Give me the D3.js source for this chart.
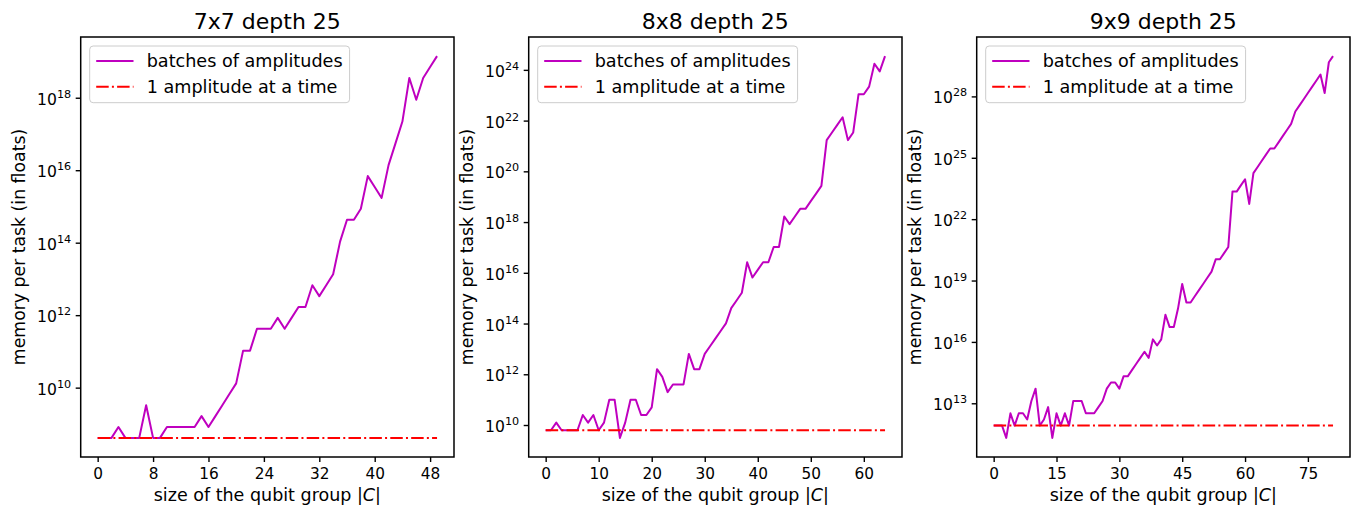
<!DOCTYPE html>
<html><head><meta charset="utf-8">
<script src="https://cdn.jsdelivr.net/npm/d3@7"></script>
<style>
body{margin:0;background:#fff}
svg{display:block}
text{font-family:"DejaVu Sans",sans-serif;fill:#000}
</style>
</head><body>
<svg id="chart" width="1355" height="507"></svg>
<script>
// ---------------- data ----------------
const titles = ["7x7 depth 25", "8x8 depth 25", "9x9 depth 25"];
const seriesNames = ["batches of amplitudes", "1 amplitude at a time"];

// qubit-group sizes |C|
const sizes7 = d3.range(0, 50);
const sizes8 = d3.range(0, 65);
const sizes9 = d3.range(0, 82);

// memory per task, batches of amplitudes (floats)
const batches7 = [
  4.1e8, 4.1e8, 4.1e8, 8.2e8, 4.1e8, 4.1e8, 4.1e8, 3.28e9, 4.1e8, 4.1e8,
  8.2e8, 8.2e8, 8.2e8, 8.2e8, 8.2e8, 1.64e9, 8.2e8, 1.64e9, 3.28e9, 6.56e9,
  1.31e10, 1.05e11, 1.05e11, 4.2e11, 4.2e11, 4.2e11, 8.4e11, 4.2e11, 8.4e11, 1.68e12,
  1.68e12, 6.72e12, 3.36e12, 6.72e12, 1.34e13, 1.07e14, 4.3e14, 4.3e14, 8.6e14, 6.88e15,
  3.44e15, 1.72e15, 1.38e16, 5.5e16, 2.2e17, 3.52e18, 8.8e17, 3.52e18, 7.04e18, 1.41e19
];
const batches8 = [
  6.2e9, 6.2e9, 1.24e10, 6.2e9, 6.2e9, 6.2e9, 6.2e9, 2.48e10, 1.24e10, 2.48e10,
  6.2e9, 1.24e10, 9.92e10, 9.92e10, 3.1e9, 1.24e10, 9.92e10, 9.92e10, 2.48e10, 2.48e10,
  4.96e10, 1.59e12, 7.94e11, 1.98e11, 3.97e11, 3.97e11, 3.97e11, 6.35e12, 1.59e12, 1.59e12,
  6.35e12, 1.27e13, 2.54e13, 5.08e13, 1.02e14, 4.06e14, 8.13e14, 1.63e15, 2.6e16, 6.5e15,
  1.3e16, 2.6e16, 2.6e16, 1.04e17, 1.04e17, 1.66e18, 8.32e17, 1.66e18, 3.33e18, 3.33e18,
  6.66e18, 1.33e19, 2.66e19, 1.7e21, 3.41e21, 6.82e21, 1.36e22, 1.7e21, 3.41e21, 1.09e23,
  1.09e23, 2.18e23, 1.75e24, 8.73e23, 3.49e24
];
const batches9 = [
  8.1e11, 8.1e11, 8.1e11, 2.03e11, 3.24e12, 8.1e11, 3.24e12, 3.24e12, 1.62e12, 1.3e13,
  5.18e13, 8.1e11, 1.62e12, 6.48e12, 2.03e11, 3.24e12, 8.1e11, 3.24e12, 8.1e11, 1.3e13,
  1.3e13, 1.3e13, 3.24e12, 3.24e12, 3.24e12, 6.48e12, 1.3e13, 5.18e13, 1.04e14, 1.04e14,
  5.18e13, 2.07e14, 2.07e14, 4.15e14, 8.29e14, 1.66e15, 3.32e15, 1.66e15, 1.33e16, 6.64e15,
  1.33e16, 2.12e17, 5.31e16, 5.31e16, 4.25e17, 6.79e18, 8.49e17, 8.49e17, 1.7e18, 3.4e18,
  6.79e18, 1.36e19, 2.72e19, 1.09e20, 1.09e20, 2.17e20, 4.35e20, 2.23e23, 2.23e23, 4.45e23,
  8.91e23, 5.57e22, 1.78e24, 3.56e24, 7.12e24, 1.42e25, 2.85e25, 2.85e25, 5.7e25, 1.14e26,
  2.28e26, 4.56e26, 1.82e27, 3.65e27, 7.3e27, 1.46e28, 2.92e28, 5.84e28, 1.17e29, 1.46e28,
  4.67e29, 9.34e29
];

// memory per task, 1 amplitude at a time (constant)
const oneAmp7 = 4.1e8;
const oneAmp8 = 6.2e9;
const oneAmp9 = 8.1e11;

// tick labels
const xTicks7 = [0, 8, 16, 24, 32, 40, 48];
const xTicks8 = [0, 10, 20, 30, 40, 50, 60];
const xTicks9 = [0, 15, 30, 45, 60, 75];
const yTickExp7 = [10, 12, 14, 16, 18];
const yTickExp8 = [10, 12, 14, 16, 18, 20, 22, 24];
const yTickExp9 = [13, 16, 19, 22, 25, 28];

const xLabel = "size of the qubit group |";
const yLabel = "memory per task (in floats)";

// ---------------- layout ----------------
const panels = [
  {title: titles[0], xs: sizes7, ys: batches7, one: oneAmp7, xt: xTicks7, yt: yTickExp7, left: 80.7},
  {title: titles[1], xs: sizes8, ys: batches8, one: oneAmp8, xt: xTicks8, yt: yTickExp8, left: 528.7},
  {title: titles[2], xs: sizes9, ys: batches9, one: oneAmp9, xt: xTicks9, yt: yTickExp9, left: 976.7}
];
const TOP = 37, W = 373.3, H = 420;
const PURPLE = "#bf00bf", RED = "#ff0000";
const DASH = "12.5,3.2,2,3.2";
const svg = d3.select("#chart");

panels.forEach(p => {
  const g = svg.append("g").attr("transform", `translate(${p.left},${TOP})`);

  const xe = d3.extent(p.xs), xr = xe[1] - xe[0];
  const x = d3.scaleLinear().domain([xe[0] - 0.05 * xr, xe[1] + 0.05 * xr]).range([0, W]);
  const all = p.ys.concat([p.one]);
  const lmin = Math.log10(d3.min(all)), lmax = Math.log10(d3.max(all)), lr = lmax - lmin;
  const y = d3.scaleLog().domain([Math.pow(10, lmin - 0.05 * lr), Math.pow(10, lmax + 0.05 * lr)]).range([H, 0]);

  const line = d3.line().x(d => x(d[0])).y(d => y(d[1]));

  g.append("path")
    .datum(p.xs.map((v, i) => [v, p.ys[i]]))
    .attr("d", line).attr("fill", "none").attr("stroke", PURPLE)
    .attr("stroke-width", 2).attr("stroke-linejoin", "round");

  g.append("path")
    .datum(p.xs.map(v => [v, p.one]))
    .attr("d", line).attr("fill", "none").attr("stroke", RED)
    .attr("stroke-width", 2).attr("stroke-dasharray", DASH);

  // x axis
  const xa = g.append("g").attr("transform", `translate(0,${H})`)
    .call(d3.axisBottom(x).tickValues(p.xt).tickSize(5).tickSizeOuter(0));
  xa.select(".domain").remove();
  xa.selectAll(".tick line").attr("stroke", "#000").attr("stroke-width", 1.4);
  xa.selectAll(".tick text").attr("y", 22).attr("dy", null)
    .attr("font-size", 15.3).style("font-family", "DejaVu Sans");

  // y axis
  const ya = g.append("g")
    .call(d3.axisLeft(y).tickValues(p.yt.map(e => Math.pow(10, e))).tickSize(5).tickSizeOuter(0).tickFormat(() => ""));
  ya.select(".domain").remove();
  ya.selectAll(".tick line").attr("stroke", "#000").attr("stroke-width", 1.4);
  ya.selectAll(".tick text").each(function(d) {
    const t = d3.select(this);
    t.attr("x", -9.5).attr("y", 6.5).attr("dy", null).attr("text-anchor", "end")
      .attr("font-size", 15.6).style("font-family", "DejaVu Sans");
    t.append("tspan").text("10");
    t.append("tspan").attr("dy", -7).attr("font-size", 11.2).text(Math.round(Math.log10(d)));
  });

  // spines
  g.append("rect").attr("x", 0).attr("y", 0).attr("width", W).attr("height", H)
    .attr("fill", "none").attr("stroke", "#000").attr("stroke-width", 1.5);

  // title
  g.append("text").attr("x", W / 2).attr("y", -8.5).attr("text-anchor", "middle")
    .attr("font-size", 22).text(p.title);

  // x label
  const xl = g.append("text").attr("x", W / 2).attr("y", 464).attr("text-anchor", "middle")
    .attr("font-size", 17.5);
  xl.append("tspan").text(xLabel);
  xl.append("tspan").attr("font-style", "italic").text("C");
  xl.append("tspan").text("|");

  // y label
  g.append("text").attr("transform", `translate(-56,${H / 2}) rotate(-90)`)
    .attr("text-anchor", "middle").attr("font-size", 17.3).text(yLabel);

  // legend
  const FS = 17.6;
  const lg = g.append("g").attr("transform", "translate(9,9)");
  const box = lg.append("rect").attr("rx", 3.5).attr("ry", 3.5)
    .attr("fill", "#fff").attr("fill-opacity", 0.8).attr("stroke", "#cccccc").attr("stroke-width", 1);
  const rows = [15, 40.7];
  const styles = [{c: PURPLE, d: null}, {c: RED, d: DASH}];
  let maxW = 0;
  seriesNames.forEach((name, i) => {
    lg.append("line").attr("x1", 6.5).attr("x2", 43.8).attr("y1", rows[i]).attr("y2", rows[i])
      .attr("stroke", styles[i].c).attr("stroke-width", 2).attr("stroke-dasharray", styles[i].d);
    const t = lg.append("text").attr("x", 57).attr("y", rows[i] + 6.2).attr("font-size", FS).text(name);
    maxW = Math.max(maxW, t.node().getComputedTextLength());
  });
  box.attr("x", 0).attr("y", 0).attr("width", 57 + maxW + 7).attr("height", 56.7);
});
</script>
</body></html>
